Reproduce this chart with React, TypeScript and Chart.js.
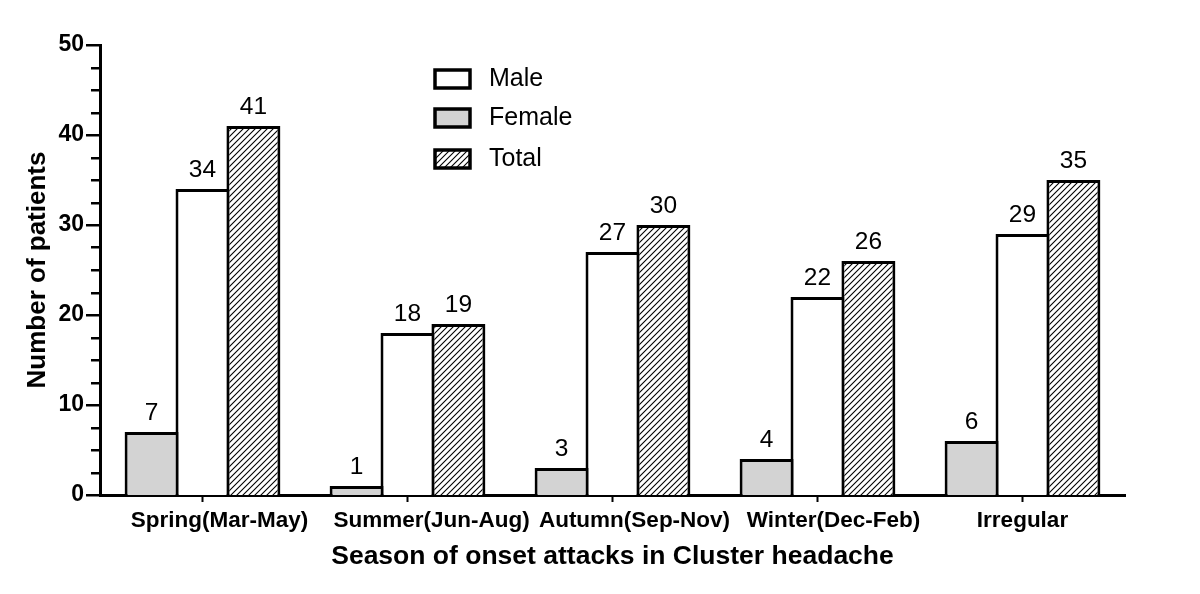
import React, { useEffect, useRef } from "react";
import { Chart, registerables } from "chart.js";
Chart.register(...registerables);

const categories = ["Spring(Mar-May)", "Summer(Jun-Aug)", "Autumn(Sep-Nov)", "Winter(Dec-Feb)", "Irregular"];
const femaleValues = [7, 1, 3, 4, 6];
const maleValues = [34, 18, 27, 22, 29];
const totalValues = [41, 19, 30, 26, 35];
const yMin = 0;
const yMax = 50;
const yMajorStep = 10;
const yMinorStep = 2.5;
const legendOrder = ["Male", "Female", "Total"];
const xTitle = "Season of onset attacks in Cluster headache";
const yTitle = "Number of patients";

const FONT = '"Liberation Sans", Arial, Helvetica, sans-serif';
const GRAY = "#d3d3d3";
// horizontal nudges of category labels, as placed in the original figure
const LABEL_SHIFT = [17, 24, 22, 16, 0];

function makeHatch(): CanvasPattern {
  const c = document.createElement("canvas");
  c.width = 6;
  c.height = 6;
  const g = c.getContext("2d")!;
  g.fillStyle = "#ffffff";
  g.fillRect(0, 0, 6, 6);
  g.strokeStyle = "#000000";
  g.lineWidth = 1.1;
  g.beginPath();
  g.moveTo(0, 6);
  g.lineTo(6, 0);
  g.moveTo(-1, 1);
  g.lineTo(1, -1);
  g.moveTo(5, 7);
  g.lineTo(7, 5);
  g.stroke();
  return g.createPattern(c, "repeat")!;
}

export default function App() {
  const ref = useRef<HTMLCanvasElement | null>(null);

  useEffect(() => {
    const canvas = ref.current;
    if (!canvas) return;
    const hatch = makeHatch();
    const fills: Record<string, any> = { Male: "#ffffff", Female: GRAY, Total: hatch };

    const decor = {
      id: "decor",
      afterDatasetsDraw(chart: any) {
        const ctx = chart.ctx as CanvasRenderingContext2D;
        const x = chart.scales.x;
        const y = chart.scales.y;
        ctx.save();
        ctx.strokeStyle = "#000";
        ctx.lineWidth = 2.5;
        for (let v = yMin; v <= yMax + 1e-9; v += yMinorStep) {
          const py = Math.round(y.getPixelForValue(v)) + 0.25;
          const major = Math.abs(v % yMajorStep) < 1e-9;
          ctx.beginPath();
          ctx.moveTo(x.left - (major ? 14 : 9), py);
          ctx.lineTo(x.left, py);
          ctx.stroke();
        }
        ctx.lineWidth = 2;
        categories.forEach((_, i) => {
          const px = x.getPixelForValue(i);
          ctx.beginPath();
          ctx.moveTo(px, y.bottom);
          ctx.lineTo(px, y.bottom + 7);
          ctx.stroke();
        });
        // category labels
        ctx.fillStyle = "#000";
        ctx.font = `bold 22.5px ${FONT}`;
        ctx.textAlign = "center";
        ctx.textBaseline = "alphabetic";
        categories.forEach((lab, i) => {
          ctx.fillText(lab, x.getPixelForValue(i) + LABEL_SHIFT[i], y.bottom + 32);
        });
        // value labels
        ctx.font = `24.5px ${FONT}`;
        chart.data.datasets.forEach((ds: any, di: number) => {
          const meta = chart.getDatasetMeta(di);
          meta.data.forEach((bar: any, i: number) => {
            ctx.fillText(String(ds.data[i]), bar.x, bar.y - 12);
          });
        });
        // legend
        const rows = [79, 118, 159];
        legendOrder.forEach((name, i) => {
          const cy = rows[i];
          ctx.fillStyle = fills[name];
          ctx.fillRect(435, cy - 9, 35, 18);
          ctx.lineWidth = 3.5;
          ctx.strokeStyle = "#000";
          ctx.strokeRect(435, cy - 9, 35, 18);
          ctx.fillStyle = "#000";
          ctx.font = `25px ${FONT}`;
          ctx.textAlign = "left";
          ctx.textBaseline = "middle";
          ctx.fillText(name, 489, cy);
        });
        ctx.restore();
      },
    };

    const chart = new Chart(canvas, {
      type: "bar",
      data: {
        labels: categories,
        datasets: [
          { label: "Female", data: femaleValues, backgroundColor: GRAY, borderColor: "#000", borderWidth: 3 },
          { label: "Male", data: maleValues, backgroundColor: "#ffffff", borderColor: "#000", borderWidth: 3 },
          { label: "Total", data: totalValues, backgroundColor: hatch as any, borderColor: "#000", borderWidth: 3 },
        ],
      },
      options: {
        responsive: false,
        animation: false,
        maintainAspectRatio: false,
        layout: { padding: { top: 45, right: 75, left: 0, bottom: 0 } },
        datasets: { bar: { categoryPercentage: 0.745, barPercentage: 1.06 } },
        plugins: { legend: { display: false }, tooltip: { enabled: false } },
        scales: {
          x: {
            grid: { display: false, drawTicks: false },
            border: { display: true, color: "#000", width: 3 },
            ticks: { display: false },
            title: { display: true, text: xTitle, color: "#000", font: { family: FONT, size: 26.5, weight: "bold" }, padding: { top: 0, bottom: 21 } },
            afterFit: (s: any) => { s.height = 99; },
          },
          y: {
            min: yMin,
            max: yMax,
            grid: { display: false, drawTicks: false },
            border: { display: true, color: "#000", width: 3 },
            ticks: { stepSize: yMajorStep, color: "#000", padding: 16, font: { family: FONT, size: 23, weight: "bold" } },
            title: { display: true, text: yTitle, color: "#000", font: { family: FONT, size: 26, weight: "bold" }, padding: { top: 22, bottom: 0 } },
            afterFit: (s: any) => { s.width = 100; },
          },
        },
      },
      plugins: [decor],
    });
    return () => chart.destroy();
  }, []);

  return (
    <canvas
      ref={ref}
      width={1200}
      height={594}
      style={{ position: "fixed", left: 0, top: 0, width: 1200, height: 594, background: "#fff" }}
    />
  );
}
